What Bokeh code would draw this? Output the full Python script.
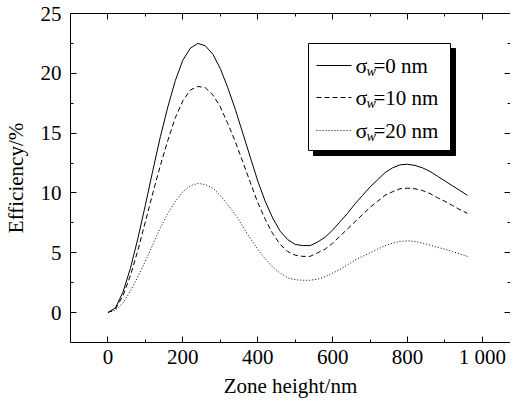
from bokeh.plotting import figure
from bokeh.models import Range1d, LinearAxis, FixedTicker, BoxAnnotation, Label, Arrow
from bokeh.embed import file_html
from bokeh.resources import INLINE

# ---- data ----
zone_height = [0, 20, 40, 60, 80, 100, 120, 140, 160, 180, 200, 220, 240, 260, 280, 300,
               320, 340, 360, 380, 400, 420, 440, 460, 480, 500, 520, 540, 560, 580, 600,
               620, 640, 660, 680, 700, 720, 740, 760, 780, 800, 820, 840, 860, 880, 900,
               920, 940, 960]
eff_sigma0 = [0, 0.4, 1.7, 3.7, 6.2, 9.0, 11.9, 14.7, 17.2, 19.4, 21.1, 22.1, 22.5, 22.3,
              21.6, 20.4, 18.8, 17.0, 15.0, 13.0, 11.0, 9.3, 7.9, 6.8, 6.1, 5.7, 5.6, 5.6,
              5.9, 6.3, 6.9, 7.6, 8.3, 9.1, 9.8, 10.5, 11.1, 11.7, 12.1, 12.35, 12.4, 12.3,
              12.1, 11.8, 11.4, 11.0, 10.6, 10.2, 9.8]
eff_sigma10 = [0, 0.3, 1.4, 3.1, 5.2, 7.6, 10.0, 12.3, 14.4, 16.3, 17.7, 18.6, 18.9, 18.8,
               18.2, 17.2, 15.8, 14.3, 12.6, 10.9, 9.2, 7.8, 6.6, 5.7, 5.1, 4.8, 4.7, 4.7,
               5.0, 5.3, 5.8, 6.4, 7.0, 7.6, 8.2, 8.8, 9.3, 9.8, 10.1, 10.35, 10.4, 10.35,
               10.2, 9.95, 9.6, 9.3, 8.95, 8.6, 8.3]
eff_sigma20 = [0, 0.2, 0.8, 1.8, 3.0, 4.3, 5.7, 7.1, 8.3, 9.3, 10.1, 10.6, 10.8, 10.7,
               10.4, 9.8, 9.0, 8.2, 7.2, 6.2, 5.3, 4.5, 3.8, 3.3, 2.9, 2.75, 2.7, 2.7,
               2.8, 3.0, 3.3, 3.6, 4.0, 4.4, 4.7, 5.0, 5.3, 5.6, 5.8, 5.95, 6.0, 5.95,
               5.8, 5.65, 5.45, 5.3, 5.1, 4.9, 4.7]
series_labels = ["=0 nm", "=10 nm", "=20 nm"]
x_ticks = [0, 200, 400, 600, 800, 1000]
x_tick_labels = ["0", "200", "400", "600", "800", "1 000"]
x_minor = [100, 300, 500, 700, 900]
y_ticks = [0, 5, 10, 15, 20, 25]
y_minor = [2.5, 7.5, 12.5, 17.5, 22.5]

FONT = "Liberation Serif"

p = figure(width=510, height=400, output_backend="svg", toolbar_location=None,
           x_range=Range1d(-100, 1075), y_range=Range1d(-2.5, 25),
           min_border_left=66, min_border_right=0, min_border_top=13,
           min_border_bottom=0)
p.outline_line_color = None
p.grid.visible = False

dashes = ["solid", "5 3", "1 2"]
for ys, dash in zip([eff_sigma0, eff_sigma10, eff_sigma20], dashes):
    p.line(zone_height, ys, line_color="black", line_width=1, line_dash=dash)

xt = FixedTicker(ticks=x_ticks, minor_ticks=x_minor)
yt = FixedTicker(ticks=y_ticks, minor_ticks=y_minor)

p.add_layout(LinearAxis(), "above")
p.add_layout(LinearAxis(), "right")

for ax in p.xaxis:
    ax.ticker = xt
for ax in p.yaxis:
    ax.ticker = yt

for ax in p.xaxis + p.yaxis:
    ax.major_tick_in = 6
    ax.major_tick_out = 0
    ax.minor_tick_in = 3
    ax.minor_tick_out = 0
    ax.axis_line_color = "black"
    ax.major_tick_line_color = "black"
    ax.minor_tick_line_color = "black"
    ax.major_label_text_font = FONT
    ax.major_label_text_font_size = "21px"
    ax.major_label_text_color = "black"
    ax.axis_label_text_font = FONT
    ax.axis_label_text_font_size = "21px"
    ax.axis_label_text_font_style = "normal"
    ax.axis_label_text_color = "black"

bottom = p.below[0]
bottom.axis_label = "Zone height/nm"
bottom.major_label_overrides = {t: s for t, s in zip(x_ticks, x_tick_labels)}
bottom.major_label_standoff = 2
bottom.axis_label_standoff = 2

left = p.left[0]
left.axis_label = "Efficiency/%"
left.major_label_standoff = 9
left.axis_label_standoff = 10

for ax in (p.above[0], p.right[0]):
    ax.major_label_text_font_size = "1px"
    ax.major_label_text_color = None
    ax.major_label_standoff = 0
p.right[0].axis_line_color = None

# ---- legend (screen units, relative to the plot frame) ----
p.add_layout(BoxAnnotation(left=243, right=385, top=294, bottom=187,
                           left_units="screen", right_units="screen",
                           top_units="screen", bottom_units="screen",
                           fill_color="black", fill_alpha=1, line_color="black",
                           line_alpha=1))
p.add_layout(BoxAnnotation(left=238, right=380, top=299, bottom=192,
                           left_units="screen", right_units="screen",
                           top_units="screen", bottom_units="screen",
                           fill_color="white", fill_alpha=1, line_color="black",
                           line_alpha=1, line_width=1))
rows = [277, 245, 212]
for ry, dash, lab in zip(rows, dashes, series_labels):
    p.add_layout(Arrow(end=None, x_start=246, y_start=ry, x_end=281, y_end=ry,
                       start_units="screen", end_units="screen",
                       line_color="black", line_width=1, line_dash=dash))
    p.add_layout(Label(x=285, y=ry, x_units="screen", y_units="screen", text="σ",
                       text_font=FONT, text_font_size="22px", text_baseline="middle",
                       text_color="black"))
    p.add_layout(Label(x=296, y=ry - 6, x_units="screen", y_units="screen", text="w",
                       text_font=FONT, text_font_size="14px", text_font_style="italic",
                       text_baseline="middle", text_color="black"))
    p.add_layout(Label(x=303, y=ry, x_units="screen", y_units="screen", text=lab,
                       text_font=FONT, text_font_size="21px", text_baseline="middle",
                       text_color="black"))

open("out.html", "w").write(file_html(p, INLINE))
